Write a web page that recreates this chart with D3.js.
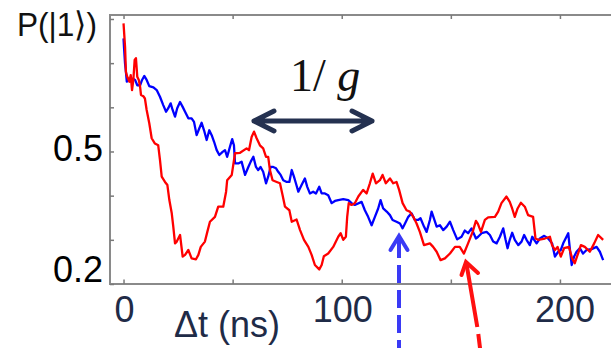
<!DOCTYPE html>
<html>
<head>
<meta charset="utf-8">
<script src="https://cdn.jsdelivr.net/npm/d3@7"></script>
<style>
  body { margin: 0; background: #fff; }
  svg { display: block; }
  .tick line { stroke: #7a7a7a; stroke-width: 1.5; }
  .lbl { font-family: 'Liberation Sans', Arial, sans-serif; }
</style>
</head>
<body>
<div id="chart"></div>
<script>
// time axis in ns, probability of |1>
const redTime = [0, 0.7, 1.1, 1.7, 2.7, 3.3, 3.9, 4.5, 5.1, 5.7, 6.3, 7.0, 7.6, 8.0, 9.1, 9.8, 10.6, 11.8, 12.9, 14.4,
  15.9, 16.7, 17.5, 19.0, 20.1, 21.0, 22.1, 22.8, 23.6, 24.4, 25.9, 27.1, 28.2, 29.7, 31.2, 33.2, 34.3, 35.4, 37.3, 38.4,
  39.6, 41.9, 43.4, 45.7, 47.0, 47.5, 49.6, 51.1, 53.4, 56.4, 57.5, 58.7, 59.8, 61.0, 62.5, 64.0, 65.3, 66.3, 67.1, 68.3,
  70.2, 71.7, 72.9, 74.0, 76.0, 77.1, 79.3, 80.9, 82.7, 84.7, 86.2, 87.7, 89.7, 90.8, 91.8, 93.8, 96.1, 98.4, 99.5, 100.7,
  101.9, 102.5, 103.2, 104.5, 106.0, 107.6, 109.8, 111.4, 112.9, 114.2, 115.7, 117.5, 118.7, 120.2, 122.1, 123.6, 125.1, 126.3, 127.9, 129.7,
  131.2, 132.8, 134.3, 135.8, 137.7, 140.4, 141.9, 143.5, 145.3, 147.3, 149.6, 151.9, 154.1, 156.0, 157.9, 160.0, 161.5, 162.4, 163.8, 165.6,
  167.1, 170.2, 171.7, 173.2, 175.5, 177.0, 178.1, 179.3, 180.6, 182.1, 183.9, 185.4, 187.7, 188.8, 190.0, 193.1, 195.4, 196.4, 197.7, 198.9,
  200.4, 201.9, 204.1, 205.6, 206.8, 208.3, 209.6, 211.4, 213.7, 215.7, 217.5, 219.8]
const redProb = [0.790, 0.737, 0.680, 0.669, 0.658, 0.673, 0.639, 0.662, 0.707, 0.711, 0.669, 0.662, 0.646, 0.628, 0.625, 0.620, 0.594, 0.564, 0.530, 0.518,
  0.514, 0.481, 0.443, 0.431, 0.424, 0.390, 0.360, 0.330, 0.292, 0.296, 0.311, 0.262, 0.266, 0.277, 0.258, 0.256, 0.266, 0.284, 0.296, 0.318,
  0.341, 0.352, 0.375, 0.375, 0.409, 0.435, 0.447, 0.496, 0.497, 0.507, 0.503, 0.533, 0.545, 0.530, 0.514, 0.507, 0.488, 0.488, 0.458, 0.435,
  0.431, 0.428, 0.401, 0.375, 0.367, 0.341, 0.346, 0.322, 0.300, 0.284, 0.266, 0.243, 0.233, 0.243, 0.263, 0.269, 0.284, 0.307, 0.315, 0.300,
  0.307, 0.352, 0.383, 0.379, 0.383, 0.398, 0.413, 0.405, 0.428, 0.450, 0.428, 0.435, 0.447, 0.428, 0.439, 0.428, 0.431, 0.413, 0.383, 0.367,
  0.364, 0.352, 0.337, 0.318, 0.288, 0.292, 0.284, 0.273, 0.254, 0.258, 0.269, 0.284, 0.284, 0.269, 0.292, 0.318, 0.343, 0.336, 0.318, 0.345,
  0.351, 0.352, 0.364, 0.383, 0.398, 0.386, 0.371, 0.352, 0.371, 0.384, 0.375, 0.356, 0.352, 0.303, 0.300, 0.303, 0.307, 0.288, 0.277, 0.284,
  0.262, 0.281, 0.284, 0.258, 0.247, 0.269, 0.288, 0.284, 0.273, 0.292, 0.311, 0.300]

const blueTime = [0, 0.2, 0.7, 1.1, 1.5, 2.2, 3.3, 4.2, 5.3, 6.3, 7.6, 8.5, 9.5, 10.6, 11.8, 13.7, 15.2, 16.7, 18.2, 19.5,
  20.5, 21.6, 22.5, 23.6, 24.6, 25.9, 27.1, 28.2, 29.7, 31.2, 32.3, 33.5, 34.7, 35.8, 36.9, 38.1, 39.3, 40.4, 41.5, 42.7,
  43.9, 45.4, 46.5, 47.5, 48.8, 49.8, 50.6, 51.1, 52.6, 54.1, 55.7, 57.2, 58.3, 59.5, 60.7, 61.7, 62.8, 64.0, 65.3, 66.3,
  67.4, 68.6, 69.9, 70.9, 72.0, 73.2, 74.8, 76.0, 77.1, 78.1, 79.0, 80.1, 81.6, 83.1, 84.2, 85.4, 86.9, 88.2, 89.7, 90.8,
  92.3, 93.8, 95.4, 96.9, 98.4, 100.7, 103.0, 104.5, 106.0, 109.1, 110.6, 112.1, 113.7, 115.2, 116.7, 117.8, 119.0, 120.6, 122.1, 123.3,
  125.1, 126.7, 127.9, 129.0, 130.5, 132.0, 133.5, 135.0, 136.1, 137.7, 138.9, 140.4, 141.2, 142.2, 143.5, 145.0, 146.5, 148.1, 149.6, 151.1,
  152.9, 154.9, 156.4, 157.9, 159.5, 161.5, 162.5, 164.1, 166.4, 167.9, 169.4, 171.0, 172.5, 174.0, 175.1, 176.0, 177.0, 178.1, 179.3, 180.9,
  182.4, 183.6, 184.7, 186.2, 187.3, 188.2, 189.3, 190.8, 192.8, 194.6, 196.4, 197.7, 199.2, 200.4, 201.5, 202.6, 203.8, 204.6, 205.4, 206.5,
  207.6, 209.1, 210.6, 212.2, 214.5, 216.8, 218.3, 219.8]
const blueProb = [0.756, 0.737, 0.699, 0.680, 0.658, 0.665, 0.662, 0.665, 0.662, 0.650, 0.650, 0.662, 0.671, 0.662, 0.648, 0.645, 0.639, 0.624, 0.605, 0.590,
  0.598, 0.609, 0.594, 0.579, 0.598, 0.612, 0.601, 0.590, 0.575, 0.575, 0.567, 0.537, 0.552, 0.565, 0.548, 0.526, 0.548, 0.537, 0.522, 0.503,
  0.492, 0.499, 0.503, 0.488, 0.511, 0.528, 0.514, 0.473, 0.473, 0.477, 0.447, 0.465, 0.477, 0.488, 0.465, 0.458, 0.465, 0.454, 0.428, 0.443,
  0.465, 0.465, 0.462, 0.454, 0.447, 0.435, 0.431, 0.431, 0.458, 0.443, 0.428, 0.409, 0.424, 0.439, 0.420, 0.405, 0.409, 0.405, 0.420, 0.405,
  0.405, 0.401, 0.383, 0.388, 0.390, 0.392, 0.390, 0.383, 0.379, 0.386, 0.367, 0.352, 0.333, 0.352, 0.371, 0.390, 0.371, 0.364, 0.356, 0.345,
  0.341, 0.337, 0.326, 0.337, 0.352, 0.360, 0.345, 0.345, 0.349, 0.330, 0.318, 0.345, 0.364, 0.349, 0.330, 0.333, 0.322, 0.330, 0.341, 0.322,
  0.301, 0.307, 0.321, 0.315, 0.326, 0.303, 0.307, 0.315, 0.318, 0.311, 0.296, 0.292, 0.307, 0.326, 0.300, 0.281, 0.300, 0.316, 0.300, 0.288,
  0.296, 0.311, 0.300, 0.288, 0.307, 0.300, 0.292, 0.303, 0.309, 0.303, 0.292, 0.262, 0.273, 0.277, 0.292, 0.303, 0.315, 0.277, 0.243, 0.262,
  0.273, 0.281, 0.269, 0.277, 0.279, 0.284, 0.273, 0.254]

const xTicks = [0, 50, 100, 150, 200]
const xTickLabels = [0, 100, 200]
const yTicks = [0.2, 0.3, 0.4, 0.5, 0.6, 0.7, 0.8]
const yTickLabels = [0.5, 0.2]

const width = 611
const height = 348
const plot = { left: 110, right: 611, top: 15, bottom: 284 }

const x = d3.scaleLinear().domain([-6.2, 223.4]).range([plot.left, plot.right])
const y = d3.scaleLinear().domain([0.2, 0.809]).range([plot.bottom, plot.top])

const svg = d3.select('#chart')
  .append('svg')
  .attr('width', width)
  .attr('height', height)

/**
 * Draws the gray frame (left, top, bottom) and the inward ticks.
 */
function drawFrame () {
  svg.append('path')
    .attr('d', 'M' + plot.right + ',' + plot.top + 'H' + plot.left + 'V' + plot.bottom + 'H' + plot.right)
    .attr('fill', 'none')
    .attr('stroke', '#8a8a8a')
    .attr('stroke-width', 2)

  svg.append('g')
    .attr('transform', 'translate(0,' + plot.bottom + ')')
    .call(d3.axisBottom(x).tickValues(xTicks).tickSizeInner(-4.5).tickSizeOuter(0).tickFormat(''))
    .call(g => g.select('.domain').remove())

  svg.append('g')
    .attr('transform', 'translate(0,' + plot.top + ')')
    .call(d3.axisTop(x).tickValues(xTicks).tickSizeInner(-4).tickSizeOuter(0).tickFormat(''))
    .call(g => g.select('.domain').remove())

  svg.append('g')
    .attr('transform', 'translate(' + plot.left + ',0)')
    .call(d3.axisLeft(y).tickValues(yTicks).tickSizeInner(-4).tickSizeOuter(0).tickFormat(''))
    .call(g => g.select('.domain').remove())
}

/**
 * Draws one measured trace.
 *
 * @param {number[]} times The delays in ns
 * @param {number[]} probs The measured probabilities
 * @param {string} color The stroke colour
 */
function drawTrace (times, probs, color) {
  const line = d3.line()
    .x(i => x(times[i]))
    .y(i => y(probs[i]))

  svg.append('path')
    .datum(d3.range(times.length))
    .attr('d', line)
    .attr('fill', 'none')
    .attr('stroke', color)
    .attr('stroke-width', 2.3)
    .attr('stroke-linejoin', 'round')
}

/**
 * Adds the tick labels, axis titles and the annotations.
 */
function drawLabels () {
  svg.append('g')
    .selectAll('text')
    .data(xTickLabels)
    .join('text')
    .attr('class', 'lbl')
    .attr('x', d => x(d) + (d === 200 ? 5 : 1))
    .attr('y', 322)
    .attr('text-anchor', 'middle')
    .attr('font-size', 36)
    .attr('fill', '#1f2b47')
    .text(d => d)

  svg.append('g')
    .selectAll('text')
    .data(yTickLabels)
    .join('text')
    .attr('class', 'lbl')
    .attr('x', 103)
    .attr('y', d => d === 0.2 ? 282 : y(d) + 10)
    .attr('text-anchor', 'end')
    .attr('font-size', 36)
    .attr('fill', '#000')
    .text(d => d3.format('.1f')(d))

  svg.append('text')
    .attr('class', 'lbl')
    .attr('x', 174)
    .attr('y', 337)
    .attr('font-size', 36)
    .attr('fill', '#1f2b47')
    .text('Δt (ns)')

  svg.append('text')
    .attr('class', 'lbl')
    .attr('x', 17)
    .attr('y', 36)
    .attr('font-size', 34)
    .attr('textLength', 80)
    .attr('lengthAdjust', 'spacingAndGlyphs')
    .attr('fill', '#111')
    .text('P(|1⟩)')

  const g = svg.append('text')
    .attr('x', 290)
    .attr('y', 91)
    .attr('font-family', "'Liberation Serif', 'Times New Roman', serif")
    .attr('font-size', 46)
    .attr('fill', '#111')
  g.append('tspan').text('1/ ')
  g.append('tspan').attr('font-style', 'italic').text('g')
}

/**
 * Draws the double arrow and the two pointer arrows.
 */
function drawArrows () {
  const navy = '#243150'
  svg.append('path')
    .attr('d', 'M254,121H372M274,111L254,121L274,131M352,111L372,121L352,131')
    .attr('fill', 'none')
    .attr('stroke', navy)
    .attr('stroke-width', 5)
    .attr('stroke-linecap', 'round')
    .attr('stroke-linejoin', 'round')

  const blue = '#3a3af5'
  svg.append('path')
    .attr('d', 'M399,240V350')
    .attr('stroke', blue)
    .attr('stroke-width', 4)
    .attr('stroke-dasharray', '18,7')
  svg.append('path')
    .attr('d', 'M390.5,250L399,236L407.5,250')
    .attr('fill', 'none')
    .attr('stroke', blue)
    .attr('stroke-width', 4)
    .attr('stroke-linecap', 'round')

  const red = '#ff1010'
  svg.append('path')
    .attr('d', 'M466.5,264L477.3,327M478.3,334L480.5,352')
    .attr('fill', 'none')
    .attr('stroke', red)
    .attr('stroke-width', 4)
  svg.append('path')
    .attr('d', 'M461.5,275L466,262L478,273')
    .attr('fill', 'none')
    .attr('stroke', red)
    .attr('stroke-width', 4)
    .attr('stroke-linecap', 'round')
}

drawFrame()
drawTrace(blueTime, blueProb, '#0000ff')
drawTrace(redTime, redProb, '#ff0000')
drawLabels()
drawArrows()
</script>
</body>
</html>
